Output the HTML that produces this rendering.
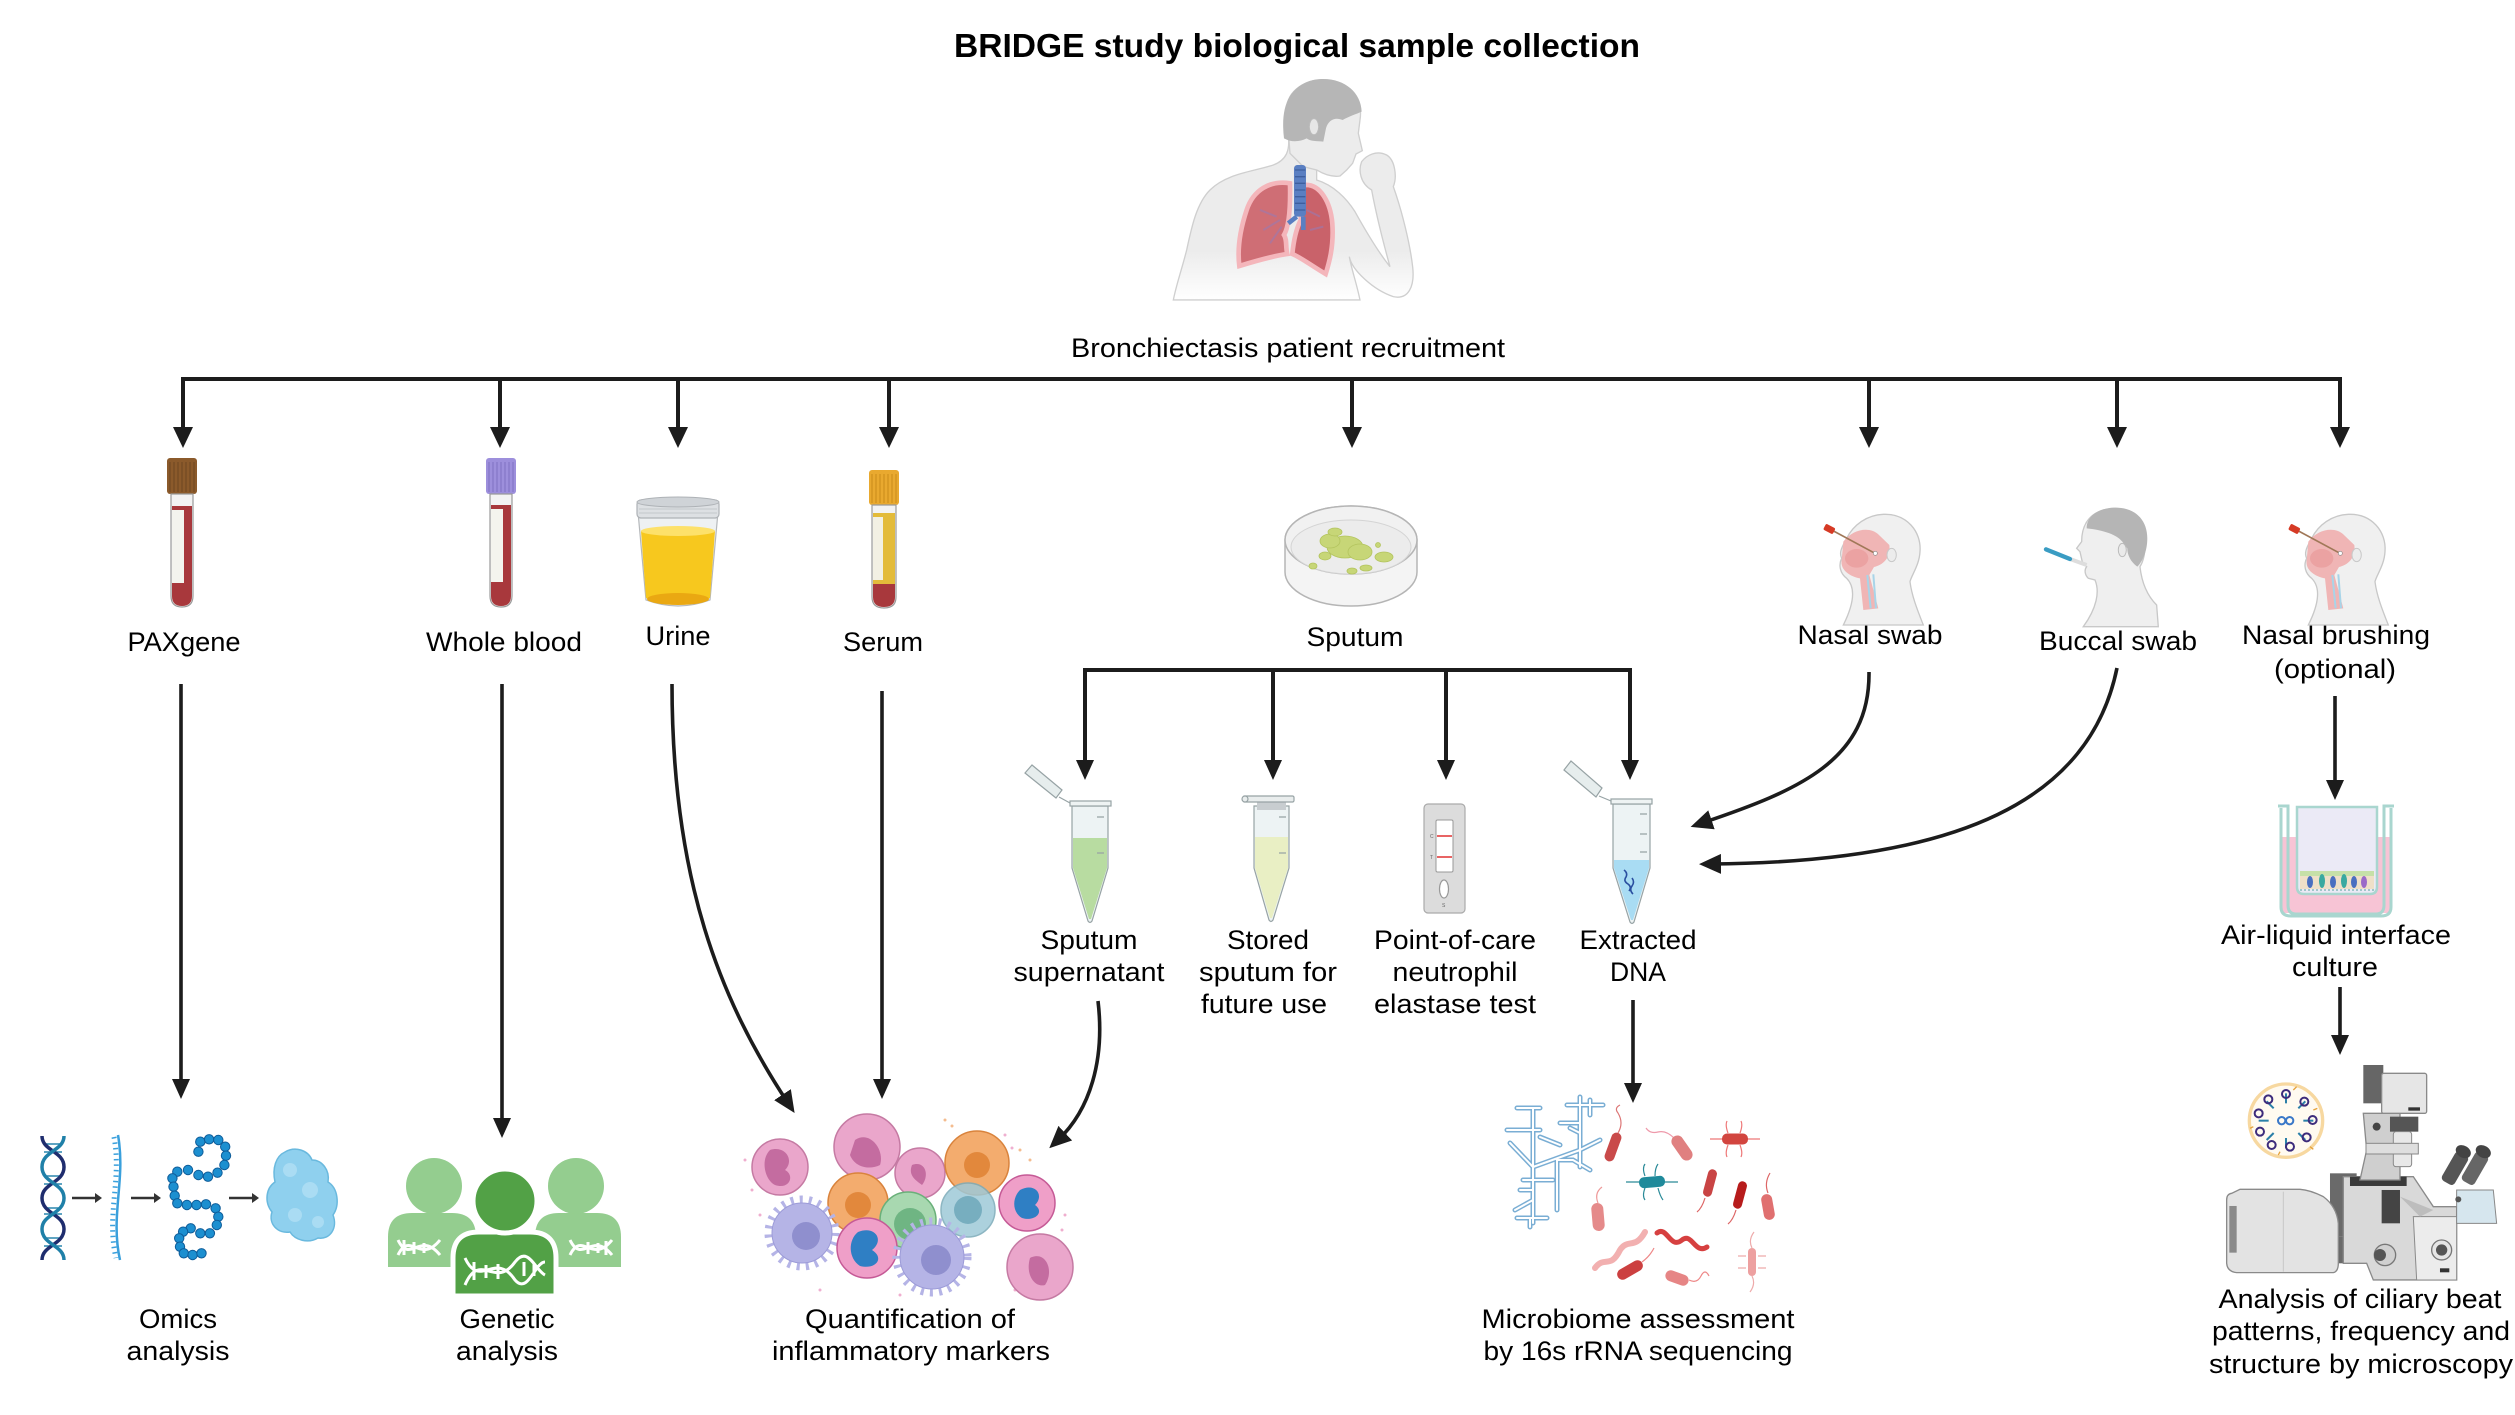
<!DOCTYPE html>
<html><head><meta charset="utf-8">
<style>html,body{margin:0;padding:0;background:#fff;}svg{display:block}</style>
</head><body>
<svg width="2515" height="1415" viewBox="0 0 2515 1415" xmlns="http://www.w3.org/2000/svg" font-family="'Liberation Sans', Arial, sans-serif">
<defs>
<marker id="ah" viewBox="0 0 22 20" refX="10" refY="10" markerWidth="22" markerHeight="20" markerUnits="userSpaceOnUse" orient="auto"><path d="M0,0 L22,10 L0,20 z" fill="#1c1c1c"/></marker>
<linearGradient id="bodyg" x1="0" y1="0" x2="0" y2="1"><stop offset="0.7" stop-color="#ececec"/><stop offset="1" stop-color="#ffffff"/></linearGradient>
</defs>
<rect width="2515" height="1415" fill="#fff"/>

<!-- ===== TEXT ===== -->
<text x="1297" y="57" font-size="33" font-weight="bold" text-anchor="middle" textLength="686" lengthAdjust="spacingAndGlyphs" fill="#000">BRIDGE study biological sample collection</text>
<g font-size="27" fill="#000" text-anchor="middle">
<text x="1288" y="357" textLength="434" lengthAdjust="spacingAndGlyphs">Bronchiectasis patient recruitment</text>
<text x="184" y="651" textLength="113" lengthAdjust="spacingAndGlyphs">PAXgene</text>
<text x="504" y="651" textLength="156" lengthAdjust="spacingAndGlyphs">Whole blood</text>
<text x="678" y="645" textLength="65" lengthAdjust="spacingAndGlyphs">Urine</text>
<text x="883" y="651" textLength="80" lengthAdjust="spacingAndGlyphs">Serum</text>
<text x="1355" y="646" textLength="97" lengthAdjust="spacingAndGlyphs">Sputum</text>
<text x="1089" y="949" textLength="97" lengthAdjust="spacingAndGlyphs">Sputum</text>
<text x="1089" y="981" textLength="151" lengthAdjust="spacingAndGlyphs">supernatant</text>
<text x="1268" y="949" textLength="82" lengthAdjust="spacingAndGlyphs">Stored</text>
<text x="1268" y="981" textLength="138" lengthAdjust="spacingAndGlyphs">sputum for</text>
<text x="1264" y="1013" textLength="126" lengthAdjust="spacingAndGlyphs">future use</text>
<text x="1455" y="949" textLength="162" lengthAdjust="spacingAndGlyphs">Point-of-care</text>
<text x="1455" y="981" textLength="125" lengthAdjust="spacingAndGlyphs">neutrophil</text>
<text x="1455" y="1013" textLength="162" lengthAdjust="spacingAndGlyphs">elastase test</text>
<text x="1638" y="949" textLength="117" lengthAdjust="spacingAndGlyphs">Extracted</text>
<text x="1638" y="981" textLength="56" lengthAdjust="spacingAndGlyphs">DNA</text>
<text x="1870" y="644" textLength="145" lengthAdjust="spacingAndGlyphs">Nasal swab</text>
<text x="2118" y="650" textLength="158" lengthAdjust="spacingAndGlyphs">Buccal swab</text>
<text x="2336" y="644" textLength="188" lengthAdjust="spacingAndGlyphs">Nasal brushing</text>
<text x="2335" y="678" textLength="122" lengthAdjust="spacingAndGlyphs">(optional)</text>
<text x="2336" y="944" textLength="230" lengthAdjust="spacingAndGlyphs">Air-liquid interface</text>
<text x="2335" y="976" textLength="86" lengthAdjust="spacingAndGlyphs">culture</text>
<text x="178" y="1328" textLength="78" lengthAdjust="spacingAndGlyphs">Omics</text>
<text x="178" y="1360" textLength="103" lengthAdjust="spacingAndGlyphs">analysis</text>
<text x="507" y="1328" textLength="95" lengthAdjust="spacingAndGlyphs">Genetic</text>
<text x="507" y="1360" textLength="102" lengthAdjust="spacingAndGlyphs">analysis</text>
<text x="910" y="1328" textLength="210" lengthAdjust="spacingAndGlyphs">Quantification of</text>
<text x="911" y="1360" textLength="278" lengthAdjust="spacingAndGlyphs">inflammatory markers</text>
<text x="1638" y="1328" textLength="313" lengthAdjust="spacingAndGlyphs">Microbiome assessment</text>
<text x="1638" y="1360" textLength="309" lengthAdjust="spacingAndGlyphs">by 16s rRNA sequencing</text>
<text x="2360" y="1308" textLength="283" lengthAdjust="spacingAndGlyphs">Analysis of ciliary beat</text>
<text x="2361" y="1340" textLength="298" lengthAdjust="spacingAndGlyphs">patterns, frequency and</text>
<text x="2361" y="1373" textLength="304" lengthAdjust="spacingAndGlyphs">structure by microscopy</text>
</g>

<!-- ===== CONNECTORS ===== -->
<g stroke="#1c1c1c" stroke-width="4" fill="none">
<path d="M181,379 H2342"/>
<path d="M183,379 V430 M500,379 V430 M678,379 V430 M889,379 V430 M1352,379 V430 M1869,379 V430 M2117,379 V430 M2340,379 V430"/>
<path d="M1083,670 H1632 M1085,670 V762 M1273,670 V762 M1446,670 V762 M1630,670 V762"/>
<path stroke-width="3.6" d="M181,684 V1081 M502,684 V1120 M882,691 V1081 M1633,1000 V1085 M2335,696 V782 M2340,987 V1037"/>
<path stroke-width="3.6" d="M672,684 C672,880 720,1000 788,1103" marker-end="url(#ah)"/>
<path stroke-width="3.6" d="M1098,1001 C1105,1060 1090,1110 1058,1140" marker-end="url(#ah)"/>
<path stroke-width="3.6" d="M1869,672 C1870,760 1800,790 1702,823" marker-end="url(#ah)"/>
<path stroke-width="3.6" d="M2117,668 C2090,800 1960,862 1711,864" marker-end="url(#ah)"/>
</g>
<g fill="#1c1c1c">
<polygon points="173,427 193,427 183,448"/>
<polygon points="490,427 510,427 500,448"/>
<polygon points="668,427 688,427 678,448"/>
<polygon points="879,427 899,427 889,448"/>
<polygon points="1342,427 1362,427 1352,448"/>
<polygon points="1859,427 1879,427 1869,448"/>
<polygon points="2107,427 2127,427 2117,448"/>
<polygon points="2330,427 2350,427 2340,448"/>
<polygon points="1076,760 1094,760 1085,780"/>
<polygon points="1264,760 1282,760 1273,780"/>
<polygon points="1437,760 1455,760 1446,780"/>
<polygon points="1621,760 1639,760 1630,780"/>
<polygon points="172,1079 190,1079 181,1099"/>
<polygon points="493,1118 511,1118 502,1138"/>
<polygon points="873,1079 891,1079 882,1099"/>
<polygon points="1624,1083 1642,1083 1633,1103"/>
<polygon points="2326,780 2344,780 2335,800"/>
<polygon points="2331,1035 2349,1035 2340,1055"/>
</g>

<!-- ===== MAN ===== -->
<g transform="translate(1160,70) scale(0.3333)">
<path d="M385,200 C390,240 380,270 340,285 C280,305 200,310 150,360 C110,400 95,470 80,540 C65,600 50,640 40,690 L600,690 C590,640 575,600 568,560 C575,600 640,660 700,680 C745,690 765,650 758,590 C750,520 725,420 700,350 C712,320 705,270 680,255 C650,240 620,255 605,275 C595,300 600,340 635,360 C648,430 665,500 690,590 C650,540 610,470 585,425 C560,385 520,345 470,330 L470,200 Z" fill="url(#bodyg)" stroke="#cfcfcf" stroke-width="4"/>
<path d="M380,120 C380,60 440,25 500,30 C570,35 610,90 600,150 L595,190 L607,242 L588,252 L578,280 L560,300 L540,318 C515,322 490,312 470,300 L430,290 L390,250 Z" fill="#ececec" stroke="#cfcfcf" stroke-width="4"/>
<path d="M372,205 C362,120 380,50 460,30 C540,15 603,60 605,125 C590,132 565,140 548,150 C525,140 505,150 498,175 L490,215 C470,212 452,215 440,205 C420,215 395,218 372,205 Z" fill="#b6b6b6"/>
<ellipse cx="462" cy="170" rx="14" ry="24" fill="#e6e6e6" stroke="#bbb" stroke-width="3"/>
<path d="M390,340 C330,330 280,360 260,420 C240,480 232,540 238,588 C290,572 340,558 382,552 C376,530 382,510 372,495 C387,470 392,420 390,340 Z" fill="#cf6e75" stroke="#f4b6bb" stroke-width="14"/>
<path d="M432,345 C482,340 512,400 517,460 C522,530 507,580 497,612 C462,592 422,562 397,552 C402,500 412,470 422,450 C427,420 427,380 432,345 Z" fill="#c9626a" stroke="#f4b6bb" stroke-width="14"/>
<path d="M300,420 L350,440 M310,480 L360,450 M330,520 L365,470 M440,420 L480,440 M450,480 L490,470" stroke="#9a7ab0" stroke-width="6" fill="none" opacity="0.6"/>
<rect x="402" y="285" width="36" height="155" rx="10" fill="#5a7fc2"/>
<path d="M405,300 H436 M405,320 H436 M405,340 H436 M405,360 H436 M405,380 H436 M405,400 H436 M405,420 H436" stroke="#3e5f9e" stroke-width="4"/>
<path d="M410,440 L385,460 M430,440 L430,480" stroke="#5a7fc2" stroke-width="14"/>
</g>

<!-- ===== PAXgene tube ===== -->
<g>
<rect x="167" y="458" width="30" height="36" rx="3" fill="#8b5a2b"/>
<path d="M170,462 V492 M174,462 V492 M178,462 V492 M182,462 V492 M186,462 V492 M190,462 V492 M194,462 V492" stroke="#6e4520" stroke-width="1"/>
<path d="M171,494 V596 Q171,607 182,607 Q193,607 193,596 V494 Z" fill="#f3f3f3" stroke="#9a9a9a" stroke-width="1.2"/>
<path d="M172,506 V596 Q172,606 182,606 Q192,606 192,596 V506 Z" fill="#a8383c"/>
<rect x="172" y="510" width="12" height="73" fill="#f4f4ee"/>
</g>
<!-- Whole blood tube -->
<g>
<rect x="486" y="458" width="30" height="36" rx="3" fill="#9d8fdc"/>
<path d="M489,462 V492 M493,462 V492 M497,462 V492 M501,462 V492 M505,462 V492 M509,462 V492 M513,462 V492" stroke="#7f70c2" stroke-width="1"/>
<path d="M490,494 V596 Q490,607 501,607 Q512,607 512,596 V494 Z" fill="#f3f3f3" stroke="#9a9a9a" stroke-width="1.2"/>
<path d="M491,505 V596 Q491,606 501,606 Q511,606 511,596 V505 Z" fill="#a8383c"/>
<rect x="491" y="509" width="12" height="73" fill="#f4f4ee"/>
</g>
<!-- Urine cup -->
<g>
<path d="M638,512 L646,600 Q678,612 710,600 L718,512 Z" fill="#eef1f3" stroke="#b5b8bb" stroke-width="1.2"/>
<path d="M641,531 L646,598 Q678,610 710,598 L715,531 Z" fill="#f7c81e"/>
<ellipse cx="678" cy="531" rx="37" ry="5" fill="#fde16a"/>
<ellipse cx="678" cy="599" rx="31" ry="6" fill="#eaa812"/>
<rect x="637" y="500" width="82" height="18" rx="4" fill="#dde0e3" stroke="#aeb2b6" stroke-width="1.2"/>
<ellipse cx="678" cy="502" rx="41" ry="5" fill="#cfd3d7" stroke="#aeb2b6" stroke-width="1"/>
<path d="M639,509 H717 M639,513 H717" stroke="#c3c7cb" stroke-width="1"/>
</g>
<!-- Serum tube -->
<g>
<rect x="869" y="470" width="30" height="35" rx="3" fill="#e9a92f"/>
<path d="M872,474 V503 M876,474 V503 M880,474 V503 M884,474 V503 M888,474 V503 M892,474 V503 M896,474 V503" stroke="#c98b18" stroke-width="1"/>
<path d="M872,505 V597 Q872,608 884,608 Q896,608 896,597 V505 Z" fill="#f3f3f3" stroke="#9a9a9a" stroke-width="1.2"/>
<path d="M873,513 V584 H895 V513 Z" fill="#e3bb3a"/>
<path d="M873,584 V597 Q873,607 884,607 Q895,607 895,597 V584 Z" fill="#a8383c"/>
<rect x="873" y="517" width="10" height="63" fill="#f2f0e4"/>
</g>

<!-- ===== Petri dish ===== -->
<g>
<path d="M1285,540 A66,34 0 0 1 1417,540 V572 A66,34 0 0 1 1285,572 Z" fill="#f4f4f4" stroke="#b5b5b5" stroke-width="1.5"/>
<ellipse cx="1351" cy="540" rx="66" ry="34" fill="#f1f1f1" stroke="#b5b5b5" stroke-width="1.5"/>
<ellipse cx="1351" cy="547" rx="60" ry="27" fill="#ececec" stroke="#d4d4d4" stroke-width="1"/>
<g fill="#c7d677" stroke="#b3c45e" stroke-width="0.8">
<ellipse cx="1345" cy="547" rx="18" ry="11"/>
<ellipse cx="1330" cy="541" rx="10" ry="7"/>
<ellipse cx="1360" cy="552" rx="12" ry="8"/>
<ellipse cx="1384" cy="557" rx="9" ry="5"/>
<ellipse cx="1325" cy="556" rx="6" ry="4"/>
<ellipse cx="1366" cy="568" rx="6" ry="3"/>
<ellipse cx="1352" cy="571" rx="5" ry="3"/>
<ellipse cx="1313" cy="566" rx="4" ry="3"/>
<ellipse cx="1335" cy="532" rx="7" ry="4"/>
<circle cx="1378" cy="545" r="2.5"/>
</g>
</g>

<!-- ===== Eppendorf: sputum supernatant ===== -->
<g stroke="#97a3a5" stroke-width="1.2">
<polygon points="1025,773 1032,765 1062,790 1056,798" fill="#e6eded"/>
<path d="M1059,797 L1070,803" fill="none"/>
<path d="M1072,806 H1108 V868 L1092,921 Q1090,924 1088,921 L1072,868 Z" fill="#edf3f4"/>
<path d="M1073,838 H1107 V868 L1091,919 H1089 L1073,868 Z" fill="#b8dca1" stroke="none"/>
<rect x="1070" y="801" width="41" height="5" fill="#eef3f3"/>
<path d="M1097,817 H1104 M1097,853 H1104" fill="none"/>
</g>
<!-- Stored -->
<g stroke="#97a3a5" stroke-width="1.2">
<path d="M1254,806 H1289 V868 L1273,920 Q1271,923 1269,920 L1254,868 Z" fill="#edf3f4"/>
<path d="M1255,837 H1288 V868 L1272,918 H1270 L1255,868 Z" fill="#e9efc4" stroke="none"/>
<rect x="1257" y="802" width="29" height="8" fill="#c8cdd0" stroke="none"/>
<rect x="1243" y="796" width="51" height="6" rx="1.5" fill="#e9eded"/>
<circle cx="1245" cy="799" r="3" fill="#e9eded"/>
<path d="M1279,817 H1286 M1279,853 H1286" fill="none"/>
</g>
<!-- POC -->
<g>
<rect x="1424" y="804" width="41" height="109" rx="4" fill="#dcdcdc" stroke="#aaa" stroke-width="1.2"/>
<rect x="1436" y="820" width="17" height="52" rx="1.5" fill="#fff" stroke="#999" stroke-width="1"/>
<path d="M1437,836 H1452 M1437,857 H1452" stroke="#e03030" stroke-width="1.6"/>
<ellipse cx="1444" cy="889" rx="4.5" ry="9" fill="#fff" stroke="#999" stroke-width="1.2"/>
<g font-size="5" fill="#666"><text x="1430" y="838">C</text><text x="1430" y="859">T</text><text x="1442" y="907">S</text></g>
</g>
<!-- Extracted DNA -->
<g stroke="#97a3a5" stroke-width="1.2">
<polygon points="1564,770 1571,761 1602,788 1596,797" fill="#e6eded"/>
<path d="M1599,796 L1611,801" fill="none"/>
<path d="M1613,804 H1650 V868 L1634,922 Q1632,925 1630,922 L1613,868 Z" fill="#edf3f4"/>
<path d="M1614,860 H1649 V868 L1633,920 H1631 L1614,868 Z" fill="#a9dcf3" stroke="none"/>
<rect x="1611" y="799" width="41" height="5" fill="#eef3f3"/>
<path d="M1640,814 H1647 M1640,834 H1647 M1640,852 H1647" fill="none"/>
<path d="M1624,870 q4,3 2,7 q-3,4 2,7 q4,3 1,7 M1632,878 q3,4 0,8 q-3,4 1,8" stroke="#2a4fa0" stroke-width="1.6" fill="none"/>
</g>

<!-- ===== Heads ===== -->
<g transform="translate(1810,495) scale(0.3333)">
<path d="M100,390 C130,330 140,280 110,250 C90,235 85,210 95,190 C85,170 100,150 110,130 C130,90 170,60 220,58 C290,55 335,110 330,170 C328,210 305,240 300,260 C305,300 320,340 340,390 Z" fill="#f0f0f0" stroke="#c8c8c8" stroke-width="4"/>
<path d="M100,140 C130,100 180,95 205,118 L238,150 C243,190 218,210 192,216 L178,240 L205,340 L160,345 L150,250 C120,245 90,225 95,195 Z" fill="#f0b5b5"/>
<ellipse cx="140" cy="190" rx="35" ry="28" fill="#e89a9a" opacity="0.7"/>
<path d="M172,240 L182,340 M190,238 L198,340" stroke="#a8d4e8" stroke-width="6"/>
<ellipse cx="245" cy="180" rx="14" ry="20" fill="#ececec" stroke="#c8c8c8" stroke-width="3"/>
<line x1="65" y1="105" x2="195" y2="175" stroke="#a07858" stroke-width="5"/>
<rect x="42" y="92" width="32" height="20" rx="5" fill="#d63a25" transform="rotate(28 58 102)"/>
<circle cx="196" cy="175" r="6" fill="#fff" stroke="#888" stroke-width="2"/>
</g>
<g transform="translate(2275,495) scale(0.3333)">
<path d="M100,390 C130,330 140,280 110,250 C90,235 85,210 95,190 C85,170 100,150 110,130 C130,90 170,60 220,58 C290,55 335,110 330,170 C328,210 305,240 300,260 C305,300 320,340 340,390 Z" fill="#f0f0f0" stroke="#c8c8c8" stroke-width="4"/>
<path d="M100,140 C130,100 180,95 205,118 L238,150 C243,190 218,210 192,216 L178,240 L205,340 L160,345 L150,250 C120,245 90,225 95,195 Z" fill="#f0b5b5"/>
<ellipse cx="140" cy="190" rx="35" ry="28" fill="#e89a9a" opacity="0.7"/>
<path d="M172,240 L182,340 M190,238 L198,340" stroke="#a8d4e8" stroke-width="6"/>
<ellipse cx="245" cy="180" rx="14" ry="20" fill="#ececec" stroke="#c8c8c8" stroke-width="3"/>
<line x1="65" y1="105" x2="195" y2="175" stroke="#a07858" stroke-width="5"/>
<rect x="42" y="92" width="32" height="20" rx="5" fill="#d63a25" transform="rotate(28 58 102)"/>
<circle cx="196" cy="175" r="6" fill="#fff" stroke="#888" stroke-width="2"/>
</g>
<g transform="translate(1810,495) scale(0.3333)">
<path d="M820,395 C860,340 870,290 855,255 L835,250 C825,240 822,225 830,215 L818,205 L810,170 L800,160 L815,140 C815,100 830,60 880,45 C940,30 1000,50 1005,130 C1008,170 1000,200 990,215 C995,260 1010,300 1040,330 L1045,395 Z" fill="#efefef" stroke="#c8c8c8" stroke-width="4"/>
<path d="M830,100 C830,60 870,40 910,38 C970,35 1012,70 1012,130 C1012,170 997,200 982,215 C962,200 952,180 952,160 L937,140 C922,120 882,105 830,100 Z" fill="#b5b5b5"/>
<ellipse cx="937" cy="165" rx="12" ry="20" fill="#eaeaea" stroke="#bbb" stroke-width="3"/>
<line x1="780" y1="192" x2="830" y2="210" stroke="#ddd" stroke-width="12"/>
<line x1="708" y1="163" x2="780" y2="192" stroke="#3a9cc3" stroke-width="13" stroke-linecap="round"/>
</g>

<!-- ===== ALI well ===== -->
<g>
<rect x="2282" y="837" width="108" height="76" fill="#f7c4d5"/>
<path d="M2278,806 H2288 V905 Q2288,914 2296,914 H2376 Q2384,914 2384,905 V806 H2394" fill="none" stroke="#a9d6cf" stroke-width="3"/>
<path d="M2281,808 V907 Q2281,916 2291,916 H2381 Q2391,916 2391,907 V808" fill="none" stroke="#a9d6cf" stroke-width="3"/>
<path d="M2297,807 V887 Q2297,894 2304,894 H2370 Q2377,894 2377,887 V807 Z" fill="#ebeaf6" stroke="#a9d6cf" stroke-width="2.5"/>
<rect x="2300" y="871" width="74" height="5" fill="#c6e0a8"/>
<rect x="2300" y="876" width="74" height="13" fill="#efe0c8"/>
<g>
<ellipse cx="2310" cy="882" rx="3" ry="6" fill="#4a6fc0"/>
<ellipse cx="2322" cy="881" rx="3" ry="7" fill="#3aa9a0"/>
<ellipse cx="2333" cy="882" rx="3" ry="6" fill="#4a6fc0"/>
<ellipse cx="2344" cy="881" rx="3" ry="7" fill="#3aa9a0"/>
<ellipse cx="2354" cy="882" rx="3" ry="6" fill="#4a6fc0"/>
<ellipse cx="2364" cy="882" rx="3" ry="6" fill="#9a6ac8"/>
</g>
<path d="M2300,890 H2374" stroke="#8bb" stroke-width="1.5" stroke-dasharray="2 2"/>
</g>

<!-- ===== Omics ===== -->
<g>
<g stroke-width="1.6" stroke="#2a86ad">
<path d="M46,1144 H60 M44,1152 H62 M46,1176 H60 M44,1184 H62 M46,1208 H60 M44,1214 H62 M46,1238 H60 M44,1246 H62"/>
</g>
<path d="M42,1136 C42,1151 64,1151 64,1167 C64,1183 42,1183 42,1198 C42,1214 64,1214 64,1229 C64,1245 42,1245 42,1260" fill="none" stroke="#1f2d6e" stroke-width="3.5"/>
<path d="M64,1136 C64,1151 42,1151 42,1167 C42,1183 64,1183 64,1198 C64,1214 42,1214 42,1229 C42,1245 64,1245 64,1260" fill="none" stroke="#1f80a8" stroke-width="3.5"/>
<g stroke="#333" stroke-width="2.5" fill="#333">
<line x1="72" y1="1198" x2="95" y2="1198"/><polygon points="95,1193 102,1198 95,1203" stroke="none"/>
<line x1="131" y1="1198" x2="154" y2="1198"/><polygon points="154,1193 161,1198 154,1203" stroke="none"/>
<line x1="229" y1="1198" x2="252" y2="1198"/><polygon points="252,1193 259,1198 252,1203" stroke="none"/>
</g>
<path d="M118,1135 C126,1180 110,1215 120,1260" fill="none" stroke="#3aa0dc" stroke-width="2.5"/>
<path d="M114,1137 C122,1180 106,1215 116,1258" fill="none" stroke="#3aa0dc" stroke-width="5" stroke-dasharray="1.5 4"/>
<g fill="#1c8fd0" stroke="#0e5c99" stroke-width="1">
<circle cx="198.4" cy="1151.7" r="4.7"/><circle cx="200.3" cy="1141.7" r="4.7"/><circle cx="209.1" cy="1139.3" r="4.7"/><circle cx="218.3" cy="1140" r="4.7"/><circle cx="225.2" cy="1146.7" r="4.7"/><circle cx="226" cy="1155.7" r="4.7"/><circle cx="224.4" cy="1165" r="4.7"/><circle cx="217.5" cy="1172.7" r="4.7"/><circle cx="208" cy="1176.7" r="4.7"/><circle cx="198.4" cy="1175" r="4.7"/><circle cx="188" cy="1170" r="4.7"/><circle cx="177.3" cy="1171.7" r="4.7"/><circle cx="172.4" cy="1178.3" r="4.7"/><circle cx="173.5" cy="1186.7" r="4.7"/><circle cx="174.7" cy="1195.7" r="4.7"/><circle cx="177.3" cy="1203.3" r="4.7"/><circle cx="186.9" cy="1205" r="4.7"/><circle cx="196.5" cy="1205" r="4.7"/><circle cx="206" cy="1204.3" r="4.7"/><circle cx="215.6" cy="1208.3" r="4.7"/><circle cx="218.3" cy="1216.7" r="4.7"/><circle cx="216.8" cy="1225" r="4.7"/><circle cx="209.9" cy="1233.3" r="4.7"/><circle cx="200.3" cy="1233.3" r="4.7"/><circle cx="190.7" cy="1228.3" r="4.7"/><circle cx="183.1" cy="1231.7" r="4.7"/><circle cx="179.2" cy="1238.3" r="4.7"/><circle cx="180" cy="1246.7" r="4.7"/><circle cx="183.8" cy="1253.3" r="4.7"/><circle cx="192.6" cy="1255" r="4.7"/><circle cx="201.5" cy="1253.3" r="4.7"/>
</g>
<path d="M285,1152 C295,1146 308,1150 312,1160 C322,1160 330,1170 328,1182 C338,1188 340,1205 333,1215 C338,1228 330,1240 318,1238 C308,1244 295,1240 290,1232 C278,1234 268,1224 272,1212 C264,1202 266,1188 275,1182 C272,1168 276,1156 285,1152 Z" fill="#8fd0ee" stroke="#6ab9de" stroke-width="1.5"/>
<g fill="#aadcf3"><circle cx="290" cy="1170" r="7"/><circle cx="310" cy="1190" r="8"/><circle cx="295" cy="1215" r="7"/><circle cx="318" cy="1222" r="6"/></g>
</g>

<!-- ===== Genetic ===== -->
<g>
<path d="M388,1267 V1237 Q388,1213 412,1213 H452 Q476,1213 476,1237 V1267 Z" fill="#94cd8f"/>
<path d="M535,1267 V1237 Q535,1213 559,1213 H597 Q621,1213 621,1237 V1267 Z" fill="#94cd8f"/>
<circle cx="434" cy="1186" r="28" fill="#94cd8f"/>
<circle cx="576" cy="1186" r="28" fill="#94cd8f"/>
<path d="M398,1255 C410,1230 420,1265 440,1240 M398,1240 C410,1265 420,1230 440,1255 M404,1240 V1255 M414,1242 V1254 M424,1243 V1253" stroke="#fff" stroke-width="3" fill="none"/>
<path d="M570,1255 C582,1230 592,1265 612,1240 M570,1240 C582,1265 592,1230 612,1255 M588,1242 V1254 M598,1243 V1253 M606,1241 V1255" stroke="#fff" stroke-width="3" fill="none"/>
<path d="M453,1296 V1258 Q453,1232 479,1232 H530 Q556,1232 556,1258 V1296 Z" fill="#52a146" stroke="#fff" stroke-width="5"/>
<circle cx="505" cy="1201" r="32" fill="#52a146" stroke="#fff" stroke-width="5"/>
<path d="M465,1285 C480,1250 495,1290 515,1262 C528,1245 535,1270 545,1275 M465,1258 C480,1290 495,1250 515,1280 C528,1295 535,1262 545,1262 M474,1262 V1280 M486,1265 V1278 M498,1264 V1279 M524,1262 V1276 M534,1263 V1276" stroke="#fff" stroke-width="3" fill="none"/>
</g>

<!-- ===== Cells ===== -->
<g>
<g fill="#e57ab0" opacity="0.6">
<circle cx="745" cy="1160" r="1.5"/><circle cx="752" cy="1190" r="1.5"/><circle cx="760" cy="1215" r="1.5"/><circle cx="1005" cy="1135" r="1.5"/><circle cx="1012" cy="1148" r="1.5"/><circle cx="1065" cy="1215" r="1.5"/><circle cx="1062" cy="1230" r="1.5"/><circle cx="820" cy="1290" r="1.5"/><circle cx="900" cy="1295" r="1.5"/><circle cx="1015" cy="1290" r="1.5"/>
</g>
<g fill="#f0a060" opacity="0.7"><circle cx="945" cy="1120" r="1.5"/><circle cx="952" cy="1126" r="1.5"/><circle cx="1020" cy="1150" r="1.5"/><circle cx="1030" cy="1160" r="1.5"/></g>
<circle cx="780" cy="1167" r="28" fill="#eaa6cb" stroke="#c57aa3" stroke-width="1.5"/>
<path d="M770,1150 C785,1145 795,1160 785,1170 C795,1175 790,1190 775,1185 C765,1180 760,1160 770,1150 Z" fill="#c46ca0"/>
<circle cx="867" cy="1147" r="33" fill="#eaa6cb" stroke="#c57aa3" stroke-width="1.5"/>
<path d="M855,1140 C870,1130 885,1150 880,1165 C870,1170 855,1168 850,1155 Z" fill="#c46ca0"/>
<circle cx="920" cy="1173" r="25" fill="#eaa6cb" stroke="#c57aa3" stroke-width="1.5"/>
<path d="M912,1165 C925,1160 930,1175 922,1185 C915,1180 908,1175 912,1165 Z" fill="#c46ca0"/>
<circle cx="977" cy="1163" r="32" fill="#f3ac6e" stroke="#d9833c" stroke-width="1.5"/>
<circle cx="977" cy="1165" r="13" fill="#e2883c"/>
<circle cx="858" cy="1203" r="30" fill="#f3ac6e" stroke="#d9833c" stroke-width="1.5"/>
<circle cx="858" cy="1205" r="13" fill="#e2883c"/>
<circle cx="968" cy="1210" r="27" fill="#9ec9d8" opacity="0.85" stroke="#7aaab8" stroke-width="1.5"/>
<circle cx="968" cy="1210" r="14" fill="#6aa5b8" opacity="0.8"/>
<circle cx="908" cy="1220" r="28" fill="#a8d8b0" stroke="#6ab07a" stroke-width="1.5"/>
<circle cx="910" cy="1224" r="16" fill="#6fb583"/>
<circle cx="1027" cy="1203" r="28" fill="#ef9fc8" stroke="#c55a96" stroke-width="1.5"/>
<path d="M1020,1190 C1035,1182 1045,1195 1035,1205 C1045,1212 1035,1222 1022,1218 C1012,1212 1012,1198 1020,1190 Z" fill="#2f7fc4"/>
<circle cx="802" cy="1233" r="33" fill="none" stroke="#b5b4e6" stroke-width="9" stroke-dasharray="3 6"/>
<circle cx="802" cy="1233" r="30" fill="#b5b4e6" stroke="#9c9bd8" stroke-width="1"/>
<circle cx="806" cy="1236" r="14" fill="#8f8fce"/>
<circle cx="867" cy="1248" r="30" fill="#ef9fc8" stroke="#c55a96" stroke-width="1.5"/>
<path d="M858,1232 C875,1225 885,1240 872,1250 C885,1258 876,1270 860,1266 C848,1258 848,1240 858,1232 Z" fill="#2f7fc4"/>
<circle cx="932" cy="1257" r="35" fill="none" stroke="#b5b4e6" stroke-width="9" stroke-dasharray="3 6"/>
<circle cx="932" cy="1257" r="32" fill="#b5b4e6" stroke="#9c9bd8" stroke-width="1"/>
<circle cx="936" cy="1260" r="15" fill="#8f8fce"/>
<circle cx="1040" cy="1267" r="33" fill="#eaa6cb" stroke="#c57aa3" stroke-width="1.5"/>
<path d="M1030,1258 C1045,1250 1055,1270 1045,1285 C1035,1288 1025,1275 1030,1258 Z" fill="#c46ca0"/>
</g>

<!-- ===== Microbiome ===== -->
<g>
<path d="M1507,1130 H1540 M1533,1108 V1130 M1517,1108 H1540 M1533,1130 V1223 M1580,1097 V1167 M1567,1105 H1603 M1560,1123 H1580 M1533,1167 L1580,1150 M1510,1143 L1533,1167 M1523,1180 H1553 M1557,1160 V1210 M1557,1160 H1573 L1590,1170 M1580,1150 L1600,1140 M1515,1210 L1533,1200 M1520,1190 H1533 M1517,1218 H1547 M1530,1218 V1227 M1540,1137 L1560,1145 M1570,1128 L1580,1133 M1590,1100 V1115" stroke="#7aaed4" stroke-width="5" fill="none" stroke-linecap="round"/>
<path d="M1507,1130 H1540 M1533,1108 V1130 M1517,1108 H1540 M1533,1130 V1223 M1580,1097 V1167 M1567,1105 H1603 M1560,1123 H1580 M1533,1167 L1580,1150 M1510,1143 L1533,1167 M1523,1180 H1553 M1557,1160 V1210 M1557,1160 H1573 L1590,1170 M1580,1150 L1600,1140 M1515,1210 L1533,1200 M1520,1190 H1533 M1517,1218 H1547 M1530,1218 V1227 M1540,1137 L1560,1145 M1570,1128 L1580,1133 M1590,1100 V1115" stroke="#fff" stroke-width="2" fill="none" stroke-linecap="round"/>
<g fill="none" stroke-width="1.2">
<path d="M1618,1133 q6,-10 0,-20 q-4,-5 2,-8" stroke="#d77"/>
<path d="M1674,1138 q-8,-8 -16,-6 q-8,2 -12,-4" stroke="#e9a"/>
<path d="M1722,1139 h-12 M1748,1139 h12 M1728,1133 q-3,-8 -1,-12 M1740,1133 q3,-8 1,-12 M1728,1145 q-3,8 -1,12 M1740,1145 q3,8 1,12" stroke="#e77"/>
<path d="M1640,1182 h-14 M1664,1182 h14 M1645,1176 q-3,-8 0,-12 M1655,1176 q0,-8 3,-12 M1645,1188 q-3,8 0,12 M1658,1188 q2,8 5,12" stroke="#2a8a98"/>
<path d="M1598,1203 q-4,-10 4,-16" stroke="#e99"/>
<path d="M1705,1198 q-3,10 -8,14 M1736,1210 q-3,10 -8,14 M1768,1193 q-4,-10 2,-20" stroke="#d66"/>
<path d="M1752,1248 q-4,-8 2,-16 M1752,1276 q4,8 -2,16 M1746,1256 h-8 M1758,1256 h8 M1746,1268 h-8 M1758,1268 h8" stroke="#eaa"/>
<path d="M1642,1262 q8,-6 12,-14 M1689,1280 q8,4 12,-4 q4,-8 8,0" stroke="#e88"/>
</g>
<g>
<rect x="-15" y="-5" width="30" height="10" rx="5" fill="#c94a4a" transform="translate(1613,1147) rotate(-70)"/>
<rect x="-14" y="-6" width="28" height="12" rx="6" fill="#e08080" transform="translate(1682,1148) rotate(55)"/>
<rect x="-13" y="-5.5" width="26" height="11" rx="5" fill="#d2453f" transform="translate(1735,1139)"/>
<rect x="-13" y="-5.5" width="26" height="11" rx="5" fill="#1f8a9b" transform="translate(1652,1182) rotate(-5)"/>
<rect x="-14" y="-6" width="28" height="12" rx="6" fill="#e58a8a" transform="translate(1598,1217) rotate(85)"/>
<rect x="-14" y="-4.5" width="28" height="9" rx="4.5" fill="#c94444" transform="translate(1710,1183) rotate(-75)"/>
<rect x="-14" y="-4.5" width="28" height="9" rx="4.5" fill="#b71c1c" transform="translate(1740,1195) rotate(-75)"/>
<rect x="-13" y="-5.5" width="26" height="11" rx="5.5" fill="#e07070" transform="translate(1768,1207) rotate(80)"/>
<rect x="-14" y="-5.5" width="28" height="11" rx="5.5" fill="#cc4040" transform="translate(1630,1270) rotate(-30)"/>
<rect x="-12" y="-5.5" width="24" height="11" rx="5.5" fill="#e68585" transform="translate(1677,1278) rotate(20)"/>
<rect x="-14" y="-4" width="28" height="8" rx="4" fill="#eda0a0" transform="translate(1752,1262) rotate(90)"/>
<path d="M1595,1268 C1605,1255 1610,1270 1620,1250 C1628,1238 1635,1250 1645,1232" stroke="#f2b0b0" stroke-width="6" fill="none" stroke-linecap="round"/>
<path d="M1657,1233 C1667,1225 1670,1250 1682,1240 C1692,1232 1695,1255 1707,1247" stroke="#d64040" stroke-width="5" fill="none" stroke-linecap="round"/>
</g>
</g>

<!-- ===== Microscope + cilia ===== -->
<g transform="translate(2200,1050) scale(0.3333)">
<circle cx="258" cy="212" r="110" fill="#fffaf0" stroke="#f7d8a0" stroke-width="10"/>
<g stroke="#2a7fa8" stroke-width="6">
<line x1="258" y1="160" x2="258" y2="130"/><line x1="258" y1="264" x2="258" y2="294"/><line x1="206" y1="212" x2="176" y2="212"/><line x1="310" y1="212" x2="340" y2="212"/>
<line x1="221" y1="175" x2="200" y2="154"/><line x1="295" y1="175" x2="316" y2="154"/><line x1="221" y1="249" x2="200" y2="270"/><line x1="295" y1="249" x2="316" y2="270"/>
</g>
<g fill="none" stroke="#3d2c7c" stroke-width="6">
<circle cx="258" cy="132" r="12"/><circle cx="313" cy="155" r="12"/><circle cx="338" cy="210" r="12"/><circle cx="320" cy="262" r="12"/><circle cx="270" cy="290" r="12"/><circle cx="215" cy="285" r="12"/><circle cx="180" cy="245" r="12"/><circle cx="176" cy="190" r="12"/><circle cx="205" cy="148" r="12"/>
</g>
<g fill="none" stroke="#3a78c8" stroke-width="6"><circle cx="245" cy="212" r="11"/><circle cx="269" cy="212" r="11"/></g>
<g stroke="#e5a23a" stroke-width="4"><line x1="280" y1="120" x2="290" y2="110"/><line x1="340" y1="180" x2="352" y2="175"/><line x1="330" y1="290" x2="340" y2="298"/><line x1="160" y1="230" x2="150" y2="235"/><line x1="240" y1="305" x2="235" y2="315"/></g>
<rect x="390" y="370" width="80" height="190" fill="#6a6a6a"/>
<rect x="410" y="560" width="150" height="80" fill="#6a6a6a"/>
<path d="M95,430 Q80,432 80,450 V640 Q82,665 110,668 H400 Q415,665 415,640 V520 Q410,470 370,440 Q330,420 300,418 H120 Z" fill="#e3e3e3" stroke="#8a8a8a" stroke-width="4"/>
<path d="M250,425 V665" stroke="#c8c8c8" stroke-width="3"/>
<rect x="88" y="468" width="22" height="140" fill="#8a8a8a"/>
<path d="M430,380 H640 L700,470 L770,470 V690 H520 L500,640 H430 Z" fill="#d9d9d9" stroke="#8a8a8a" stroke-width="4"/>
<path d="M640,500 H770 V690 H650 Z" fill="#ececec" stroke="#8a8a8a" stroke-width="3"/>
<circle cx="725" cy="600" r="30" fill="#e5e5e5" stroke="#777" stroke-width="4"/>
<circle cx="725" cy="600" r="17" fill="#555"/>
<rect x="720" y="655" width="28" height="12" fill="#333"/>
<rect x="450" y="380" width="170" height="28" fill="#3a3a3a"/>
<rect x="545" y="420" width="55" height="100" fill="#444"/>
<circle cx="555" cy="615" r="32" fill="#d0d0d0" stroke="#777" stroke-width="4"/>
<circle cx="540" cy="615" r="18" fill="#555"/>
<path d="M490,190 H600 V390 H480 L500,300 Z" fill="#cfcfcf" stroke="#8a8a8a" stroke-width="4"/>
<rect x="490" y="45" width="60" height="115" fill="#666"/>
<rect x="545" y="70" width="135" height="120" rx="6" fill="#e6e6e6" stroke="#8a8a8a" stroke-width="4"/>
<rect x="625" y="172" width="35" height="10" fill="#333"/>
<rect x="570" y="200" width="85" height="45" fill="#555"/>
<rect x="580" y="245" width="55" height="105" rx="8" fill="#e8e8e8" stroke="#888" stroke-width="3"/>
<rect x="498" y="280" width="157" height="32" fill="#dedede" stroke="#888" stroke-width="3"/>
<circle cx="530" cy="230" r="12" fill="#444"/>
<path d="M770,420 H880 L890,520 H770 Z" fill="#d6e6ee" stroke="#888" stroke-width="3"/>
<rect x="-22" y="-50" width="44" height="100" rx="12" fill="#555" transform="translate(765,355) rotate(30)"/>
<rect x="-22" y="-50" width="44" height="100" rx="12" fill="#666" transform="translate(825,355) rotate(30)"/>
<ellipse cx="790" cy="305" rx="24" ry="18" fill="#444" transform="rotate(30 790 305)"/>
<ellipse cx="850" cy="305" rx="24" ry="18" fill="#444" transform="rotate(30 850 305)"/>
<path d="M600,440 L700,480 L660,500 Z" fill="#bdbdbd"/>
<circle cx="775" cy="448" r="9" fill="#555"/>
</g>
</svg>
</body></html>
